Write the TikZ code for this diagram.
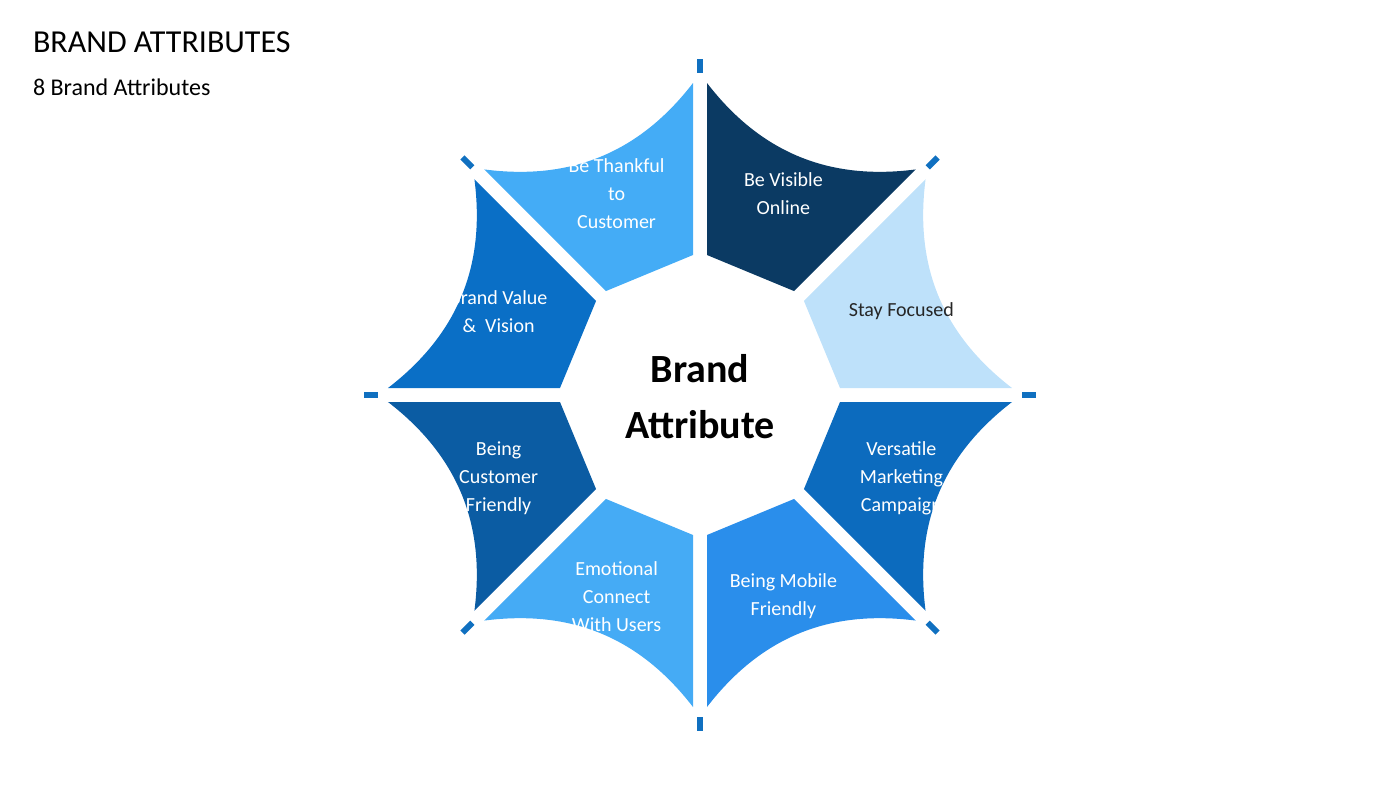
\documentclass[tikz,border=0pt]{standalone}
\usepackage{fontspec}
\setmainfont{Carlito}
\usetikzlibrary{calc}
\definecolor{cA}{HTML}{0B3A63}
\definecolor{cB}{HTML}{BEE1FA}
\definecolor{cC}{HTML}{0C6BBE}
\definecolor{cD}{HTML}{2A8EEB}
\definecolor{cE}{HTML}{45ABF5}
\definecolor{cF}{HTML}{0B5CA3}
\definecolor{cG}{HTML}{0A6FC6}
\definecolor{cH}{HTML}{44ACF6}
\definecolor{tick}{HTML}{1070C0}
\tikzset{lbl/.style={align=center,font=\fontsize{10}{14}\selectfont,text=white},
tickmark/.style={fill=tick,draw=none}}
\newcommand{\seg}[4]{%
\fill[#2] ($(#1:140)+(#1+90:7)$) -- ($(#1:312)+(#1+90:7)$)
 .. controls ($(#1+14:250)$) and ($(#1+31:250)$) .. ($(#1+45:312)+(#1-45:7)$)
 -- ($(#1+45:140)+(#1-45:7)$) -- cycle;
\node[lbl,#3] (n#1) at (#1+22.5:218) {#4};}
\begin{document}
\begin{tikzpicture}[x=0.5pt,y=0.5pt]
\useasboundingbox (-700,-393) rectangle (700,395);
\node[anchor=west,font=\fontsize{16}{18}\selectfont] (title) at (-674,353) {BRAND ATTRIBUTES};
\node[anchor=west,font=\fontsize{12}{14}\selectfont] (sub) at (-674,308) {8 Brand Attributes};
\seg{45}{cA}{}{Be Visible\\Online}
\seg{0}{cB}{text=black!85}{Stay Focused}
\seg{-45}{cC}{}{Versatile\\Marketing\\Campaign}
\seg{-90}{cD}{}{Being Mobile\\Friendly}
\seg{-135}{cE}{}{Emotional\\Connect\\With Users}
\seg{180}{cF}{}{Being\\Customer\\Friendly}
\seg{135}{cG}{}{Brand Value\\\&\ \ Vision}
\seg{90}{cH}{}{Be Thankful\\to\\Customer}
\foreach \a in {0,45,...,315}{
 \fill[tickmark,rotate=\a] (322,-3) rectangle (336,3);}
\node[align=center,font=\bfseries\fontsize{20}{28}\selectfont] (center) at (0,-2) {Brand\\Attribute};
\end{tikzpicture}
\end{document}
